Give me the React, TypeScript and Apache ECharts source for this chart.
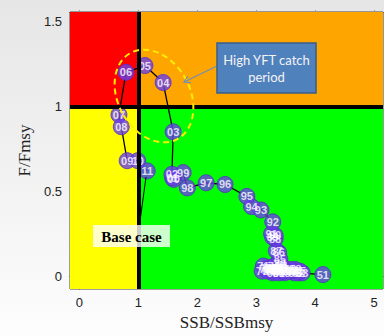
import React, { useEffect, useRef } from "react";
import * as echarts from "echarts";

// Year labels (two-digit), 1951 → 2011
const yearLabels = [
  "51", "52", "53", "54", "55", "56", "57", "58", "59", "60",
  "61", "62", "63", "64", "65", "66", "67", "68", "69", "70",
  "71", "72", "73", "74", "75", "76", "77", "78", "79", "80",
  "81", "82", "83", "84", "85", "86", "87", "88", "89", "90",
  "91", "92", "93", "94", "95", "96", "97", "98", "99", "00",
  "01", "02", "03", "04", "05", "06", "07", "08", "09", "10", "11",
];

// SSB / SSBmsy
const ssbRatio = [
  4.13, 3.72, 3.78, 3.68, 3.74, 3.65, 3.6, 3.66, 3.55, 3.58,
  3.5, 3.45, 3.48, 3.4, 3.42, 3.35, 3.3, 3.28, 3.22, 3.18,
  3.12, 3.15, 3.1, 3.2, 3.25, 3.3, 3.36, 3.4, 3.33, 3.27,
  3.38, 3.45, 3.37, 3.43, 3.4, 3.38, 3.34, 3.32, 3.28, 3.32,
  3.26, 3.28, 3.08, 2.92, 2.84, 2.47, 2.15, 1.83, 1.76, 1.6,
  1.58, 1.57, 1.59, 1.42, 1.11, 0.79, 0.67, 0.71, 0.81, 0.99, 1.15,
];

// F / Fmsy
const fRatio = [
  0.01, 0.02, 0.02, 0.03, 0.03, 0.02, 0.03, 0.04, 0.03, 0.04,
  0.03, 0.04, 0.02, 0.03, 0.05, 0.03, 0.04, 0.02, 0.04, 0.05,
  0.06, 0.04, 0.03, 0.03, 0.05, 0.06, 0.05, 0.07, 0.04, 0.03,
  0.02, 0.03, 0.04, 0.06, 0.1, 0.14, 0.15, 0.22, 0.23, 0.24,
  0.25, 0.32, 0.39, 0.41, 0.47, 0.54, 0.55, 0.52, 0.61, 0.57,
  0.58, 0.6, 0.85, 1.14, 1.24, 1.2, 0.95, 0.88, 0.68, 0.68, 0.62,
];

const xTicks = [0, 1, 2, 3, 4, 5];
const yTicks = [0, 0.5, 1, 1.5];

const X_MIN = -0.16;
const X_MAX = 5.15;
const Y_MIN = -0.075;
const Y_MAX = 1.555;

// callout pointer geometry
const arrowFrom = [217, 66];
const arrowTo = [184, 82];

function arrowHead(from: number[], to: number[], len: number, half: number) {
  const dx = to[0] - from[0];
  const dy = to[1] - from[1];
  const d = Math.hypot(dx, dy);
  const ux = dx / d;
  const uy = dy / d;
  const bx = to[0] - ux * len;
  const by = to[1] - uy * len;
  return [
    [bx - uy * half, by + ux * half],
    [to[0], to[1]],
    [bx + uy * half, by - ux * half],
  ];
}

export default function App() {
  const ref = useRef<HTMLDivElement>(null);

  useEffect(() => {
    if (!ref.current) return;
    const chart = echarts.init(ref.current, null, { renderer: "svg" });

    const points = ssbRatio.map((x, i) => [x, fRatio[i], yearLabels[i]]);
    const path = ssbRatio.map((x, i) => [x, fRatio[i]]);

    const tickLabel = {
      color: "#222",
      fontSize: 13,
      fontFamily: "Liberation Sans, Arial, sans-serif",
    };

    chart.setOption({
      animation: false,
      backgroundColor: {
        type: "linear",
        x: 0,
        y: 0,
        x2: 0,
        y2: 1,
        colorStops: [
          { offset: 0, color: "#e6e6e6" },
          { offset: 1, color: "#fdfdfd" },
        ],
      },
      grid: {
        left: 70,
        right: 1,
        top: 12,
        bottom: 47,
        show: true,
        borderColor: "#444",
        borderWidth: 1,
        backgroundColor: "transparent",
      },
      xAxis: [
        {
          type: "value",
          min: X_MIN,
          max: X_MAX,
          name: "SSB/SSBmsy",
          nameLocation: "middle",
          nameGap: 23,
          nameTextStyle: {
            fontFamily: "Liberation Serif, Times New Roman, serif",
            fontSize: 17,
            color: "#222",
          },
          splitLine: { show: false },
          axisLine: { show: true, lineStyle: { color: "#444" } },
          axisTick: {
            show: true,
            length: 5,
            customValues: xTicks,
            lineStyle: { color: "#888" },
          },
          axisLabel: { ...tickLabel, margin: 7, customValues: xTicks },
        },
        {
          type: "value",
          position: "top",
          min: X_MIN,
          max: X_MAX,
          splitLine: { show: false },
          axisLine: { show: true, lineStyle: { color: "#222" } },
          axisTick: {
            show: true,
            length: 2,
            customValues: xTicks,
            lineStyle: { color: "#999" },
          },
          axisLabel: { show: false },
        },
      ],
      yAxis: {
        type: "value",
        min: Y_MIN,
        max: Y_MAX,
        name: "F/Fmsy",
        nameLocation: "middle",
        nameGap: 37,
        nameTextStyle: {
          fontFamily: "Liberation Serif, Times New Roman, serif",
          fontSize: 17,
          color: "#222",
        },
        splitLine: { show: false },
        axisLine: { show: true, lineStyle: { color: "#444" } },
        axisTick: {
          show: true,
          length: 5,
          customValues: yTicks,
          lineStyle: { color: "#888" },
        },
        axisLabel: { ...tickLabel, margin: 8, customValues: yTicks },
      },
      series: [
        {
          // stock status quadrants and reference lines
          type: "line",
          data: [],
          z: 1,
          silent: true,
          markArea: {
            silent: true,
            label: { show: false },
            data: [
              [{ coord: [X_MIN, 1], itemStyle: { color: "#ff0000" } }, { coord: [1, Y_MAX] }],
              [{ coord: [1, 1], itemStyle: { color: "#ffa500" } }, { coord: [X_MAX, Y_MAX] }],
              [{ coord: [X_MIN, Y_MIN], itemStyle: { color: "#ffff00" } }, { coord: [1, 1] }],
              [{ coord: [1, Y_MIN], itemStyle: { color: "#00ff00" } }, { coord: [X_MAX, 1] }],
            ],
          },
          markLine: {
            silent: true,
            symbol: "none",
            label: { show: false },
            lineStyle: { color: "#000", width: 4, type: "solid" },
            data: [{ xAxis: 1 }, { yAxis: 1 }],
          },
        },
        {
          type: "line",
          data: path,
          z: 3,
          symbol: "none",
          lineStyle: { color: "#000", width: 1.3 },
          silent: true,
        },
        {
          type: "scatter",
          data: points,
          z: 4,
          symbolSize: 16,
          itemStyle: { color: "#6b40e8", borderColor: "#5530c8", borderWidth: 1 },
          label: {
            show: true,
            position: "inside",
            formatter: (p: any) => p.value[2],
            color: "#fff",
            fontSize: 11,
            fontWeight: "bold",
            fontFamily: "Liberation Sans, Arial, sans-serif",
          },
        },
      ],
      graphic: [
        {
          type: "ellipse",
          x: 154,
          y: 96,
          rotation: 0.5,
          z: 100,
          shape: { cx: 0, cy: 0, rx: 36, ry: 49 },
          style: { fill: "none", stroke: "#ffee00", lineWidth: 2, lineDash: [6, 4] },
        },
        {
          type: "line",
          z: 100,
          shape: { x1: arrowFrom[0], y1: arrowFrom[1], x2: arrowTo[0], y2: arrowTo[1] },
          style: { stroke: "#6f8fb8", lineWidth: 1.2 },
        },
        {
          type: "polyline",
          z: 100,
          shape: { points: arrowHead(arrowFrom, arrowTo, 6, 3.5) },
          style: { stroke: "#6f8fb8", lineWidth: 1.2, fill: "none" },
        },
        {
          type: "rect",
          z: 100,
          shape: { x: 217, y: 43, width: 99, height: 50 },
          style: { fill: "#4f81bd", stroke: "#385d8a", lineWidth: 1.5 },
        },
        {
          type: "text",
          z: 101,
          x: 266.5,
          y: 68.5,
          style: {
            text: "High YFT catch\nperiod",
            fill: "#f4f4f4",
            fontSize: 13,
            lineHeight: 17,
            fontFamily: "Lato, Open Sans, sans-serif",
            align: "center",
            verticalAlign: "middle",
          },
        },
        {
          // pointer from the base-case label to the latest year
          type: "line",
          z: 100,
          shape: { x1: 146, y1: 177, x2: 138, y2: 236 },
          style: { stroke: "#000", lineWidth: 1 },
        },
        {
          type: "rect",
          z: 101,
          shape: { x: 93, y: 225, width: 77, height: 22 },
          style: { fill: "rgba(255,255,255,0.8)" },
        },
        {
          type: "text",
          z: 102,
          x: 131.5,
          y: 236.5,
          style: {
            text: "Base case",
            fill: "#000",
            fontSize: 15,
            fontWeight: "bold",
            fontFamily: "Liberation Serif, Times New Roman, serif",
            align: "center",
            verticalAlign: "middle",
          },
        },
      ],
    });

    return () => chart.dispose();
  }, []);

  return (
    <div
      ref={ref}
      style={{ position: "fixed", left: 0, top: 0, width: 384, height: 336 }}
    />
  );
}
